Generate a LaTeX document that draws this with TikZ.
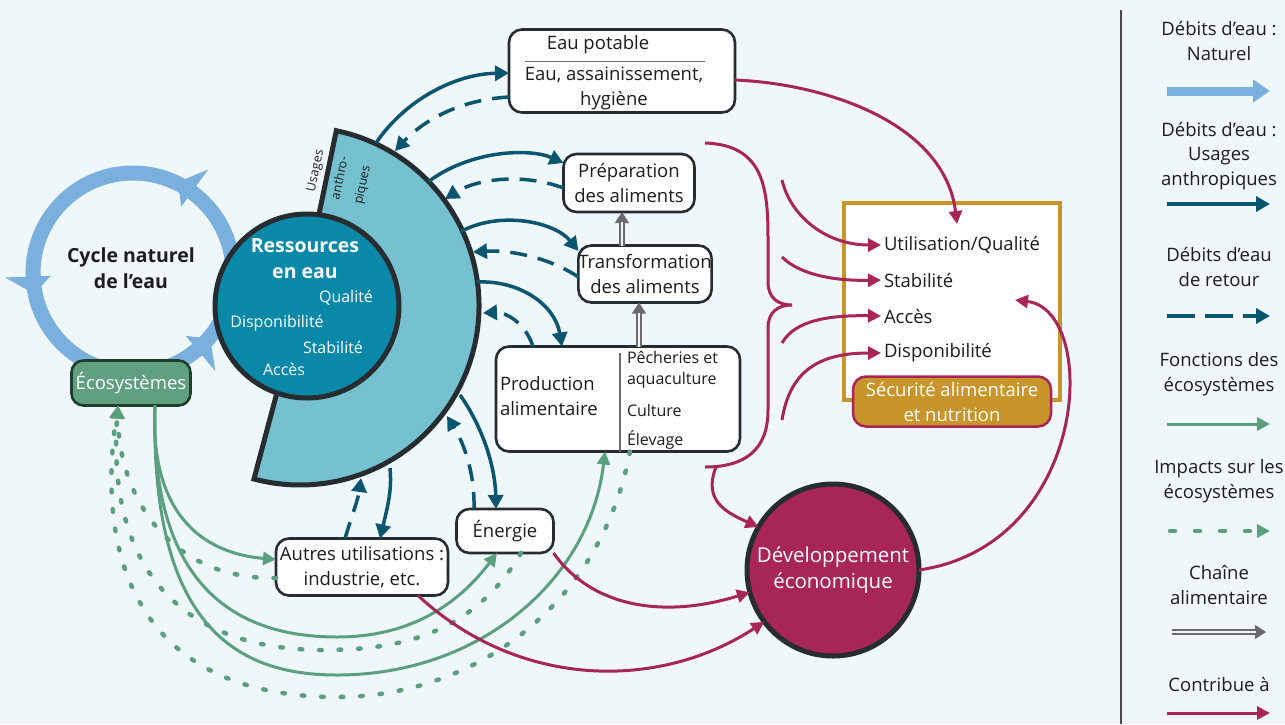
\documentclass[tikz,border=0pt]{standalone}
\usepackage{fontspec}
\setmainfont{Open Sans}
\usetikzlibrary{arrows.meta,calc}
\definecolor{bgc}{RGB}{239,247,251}
\definecolor{ringc}{RGB}{122,176,222}
\definecolor{tealc}{RGB}{10,86,112}
\definecolor{resc}{RGB}{9,136,168}
\definecolor{secc}{RGB}{117,193,208}
\definecolor{outc}{RGB}{38,44,48}
\definecolor{greenc}{RGB}{91,160,126}
\definecolor{ecofill}{RGB}{96,160,128}
\definecolor{ecoline}{RGB}{28,62,42}
\definecolor{magc}{RGB}{168,37,88}
\definecolor{goldc}{RGB}{200,149,42}
\definecolor{grayc}{RGB}{105,105,110}
\definecolor{txtc}{RGB}{30,28,30}
\newcommand\fA{\fontsize{18.5}{25}\selectfont}
\newcommand\fB{\fontsize{16}{23}\selectfont}
\newcommand\fC{\fontsize{12.5}{15}\selectfont}
\newcommand\fD{\fontsize{19.5}{26}\selectfont\bfseries}
\newcommand\fE{\fontsize{18.5}{24.5}\selectfont}
\begin{document}
\begin{tikzpicture}[x=1pt,y=-1pt,
  every node/.style={inner sep=0pt, outer sep=0pt, text=txtc},
  box/.style={draw=outc, line width=2.6pt, fill=white, rounded corners=13pt, align=center, font=\fA},
  lbl/.style={font=\fA, align=center},
  item/.style={font=\fA, anchor=west, inner sep=3pt},
  legt/.style={font=\fE, align=center},
  anthro/.style={draw=tealc, line width=3.5pt, -{Triangle[length=14pt,width=15pt]}},
  retour/.style={anthro, dash pattern=on 17pt off 11pt},
  fonc/.style={draw=greenc, line width=3pt, -{Triangle[length=13pt,width=13pt]}},
  impact/.style={fonc, line cap=round, dash pattern=on 2.5pt off 17pt, line width=4.5pt},
  contrib/.style={draw=magc, line width=3pt, -{Triangle[length=13pt,width=13pt]}},
  chainline/.style={draw=grayc, line width=1.4pt, double=bgc, double distance=2.6pt, shorten >=10pt},
  chaintip/.style={draw=grayc, line width=1pt, -{Triangle[length=11pt,width=14pt]}}
]
\useasboundingbox (0,0) rectangle (1285,724);
\fill[bgc] (0,0) rectangle (1285,724);

% ---------- natural water cycle ----------
\coordinate (cyc) at (133,273);
\draw[ringc, line width=15pt] (cyc) circle[radius=100];
\foreach \a/\t in {-54/-144, 178/88, 50/-40}{
  \fill[ringc] ($(cyc)+(\a:82)$) -- ($(cyc)+(\a:128)$) -- ($(cyc)+(\a:100)+(\t:17)$) -- cycle;
}
\node[font=\fD, align=center] (cyct) at (131,268) {Cycle naturel\\de l’eau};

% ---------- water resources ----------
\coordinate (sc) at (300,306);
\filldraw[fill=secc, draw=outc, line width=5pt, line join=miter] (sc) -- ++(-78.3:179) arc[start angle=-78.3, end angle=104.9, radius=179] -- cycle;
\node[circle, fill=resc, draw=outc, line width=5pt, minimum size=184pt] (res) at (307,306) {};
\node[font=\fD, text=white, align=center] (rest) at (305,259) {Ressources\\en eau};
\node[font=\fB, text=white] (rq) at (346,298) {Qualité};
\node[font=\fB, text=white] (rd) at (277,323) {Disponibilité};
\node[font=\fB, text=white] (rs) at (333,347) {Stabilité};
\node[font=\fB, text=white] (ra) at (284,369) {Accès};
\node[font=\fC, rotate=78] (us1) at (316,171) {Usages};
\node[font=\fC, rotate=78] (us2) at (339,178) {anthro-};
\node[font=\fC, rotate=78] (us3) at (363,185) {piques};

% sector anchor points
\coordinate (s1) at (376,143);
\coordinate (s2) at (395,151);
\coordinate (s3) at (428,182);
\coordinate (s4) at (445,199);
\coordinate (s5) at (460,232);
\coordinate (s6) at (473,252);
\coordinate (s7) at (477,282);
\coordinate (s8) at (483,313);
\coordinate (s9) at (460,395);
\coordinate (s10) at (447,416);
\coordinate (s11) at (390,468);
\coordinate (s12) at (361,478);

% ---------- boxes ----------
\node[draw=ecoline, line width=2.6pt, fill=ecofill, rounded corners=12pt, minimum width=119pt, minimum height=45pt, font=\fA, text=white] (eco) at (131,383) {Écosystèmes};

\node[box, minimum width=226pt, minimum height=83pt] (ep) at (622,71) {};
\node[lbl] (ept) at (598,45) {Eau potable};
\draw[grayc, line width=1pt] (ept.south -| 525,0) ++(0,7) coordinate (epl1) -- (epl1 -| 705,0);
\node[lbl] (eps) at (614,88) {Eau, assainissement,\\hygiène};

\node[box, minimum width=131pt, minimum height=58pt] (prep) at (629,183) {Préparation\\des aliments};
\node[box, minimum width=132pt, minimum height=57pt] (trans) at (645,274) {Transformation\\des aliments};
\node[box, minimum width=244pt, minimum height=105pt] (prod) at (618,399) {};
\draw[grayc, line width=1.5pt] (prod.north -| 620,0) ++(0,6) coordinate (pd1) -- (prod.south -| 620,0) ++(0,-6);
\node[lbl, anchor=west, align=left] (prodl) at (500,396) {Production\\alimentaire};
\node[font=\fB, anchor=west] (pp1) at (627,357) {Pêcheries et};
\node[font=\fB, anchor=west] (pp2) at (627,380) {aquaculture};
\node[font=\fB, anchor=west] (pp3) at (627,410) {Culture};
\node[font=\fB, anchor=west] (pp4) at (627,440) {Élevage};
\node[box, minimum width=97pt, minimum height=44pt] (energie) at (505,531) {Énergie};
\node[box, minimum width=172pt, minimum height=57pt] (autres) at (362,567) {Autres utilisations :\\industrie, etc.};
\node[circle, draw=outc, line width=5pt, fill=magc, minimum size=172pt, font=\fontsize{20.5}{26}\selectfont, text=white, align=center] (dev) at (833,570) {Développement\\économique};

\node[draw=goldc, line width=4pt, fill=white, minimum width=216pt, minimum height=197pt] (fsbox) at (952,301.5) {};
\node[item] (util) at (881,245) {Utilisation/Qualité};
\node[item] (stab) at (881,280) {Stabilité};
\node[item] (acces) at (881,316) {Accès};
\node[item] (dispo) at (881,353) {Disponibilité};
\node[draw=magc, fill=goldc, line width=2.5pt, rounded corners=13pt, minimum width=198pt, minimum height=50pt, font=\fA, text=white, align=center] (san) at (952,401.5) {Sécurité alimentaire\\et nutrition};

% ---------- anthropic uses & return flows ----------
\draw[anthro] (s1) .. controls (405,100) and (455,74) .. (ep.west |- 0,73);
\draw[retour] (ep.west |- 0,97) .. controls (455,100) and (420,124) .. (s2);
\draw[anthro] (s3) .. controls (470,150) and (530,148) .. (prep.west |- 0,163);
\draw[retour] (prep.west |- 0,188) .. controls (520,172) and (475,180) .. (s4);
\draw[anthro] (s5) .. controls (500,210) and (555,222) .. (trans.west |- 0,251);
\draw[retour] (trans.west |- 0,277) .. controls (545,255) and (505,250) .. (s6);
\draw[anthro] (s7) .. controls (520,280) and (555,305) .. (prod.north -| 562,0);
\draw[retour] (prod.north -| 533,0) .. controls (525,322) and (505,312) .. (s8);
\draw[anthro] (s9) .. controls (478,420) and (495,460) .. (energie.north -| 496,0);
\draw[retour] (energie.north -| 474,0) .. controls (475,470) and (462,440) .. (s10);
\draw[anthro] (s11) .. controls (392,490) and (388,505) .. (autres.north -| 380,0);
\draw[retour] (autres.north -| 345,0) .. controls (352,515) and (358,500) .. (s12);

% ---------- food chain ----------
\draw[chaintip] (prod.north -| 639,0) -- (trans.south -| 639,0);
\draw[chainline] (prod.north -| 639,0) -- (trans.south -| 639,0);
\draw[chaintip] (trans.north -| 622,0) -- (prep.south -| 622,0);
\draw[chainline] (trans.north -| 622,0) -- (prep.south -| 622,0);

% ---------- ecosystem functions & impacts ----------
\draw[impact] (autres.west |- 0,578) .. controls (165,580) and (118,490) .. (eco.south -| 118,0);
\draw[impact] (energie.south -| 521,0) .. controls (470,640) and (390,650) .. (320,650) .. controls (160,648) and (108,545) .. (eco.south -| 118,0);
\draw[impact] (prod.south -| 630,0) .. controls (600,610) and (470,697) .. (337,697) .. controls (140,697) and (95,560) .. (eco.south -| 118,0);
\draw[fonc] (eco.south -| 155,0) .. controls (150,500) and (190,552) .. (autres.175);
\draw[fonc] (eco.south -| 155,0) .. controls (150,580) and (230,637) .. (337,637) .. controls (420,637) and (465,595) .. (energie.south -| 497,0);
\draw[fonc] (eco.south -| 155,0) .. controls (150,630) and (240,675) .. (337,675) .. controls (480,675) and (590,580) .. (prod.south -| 605,0);

% ---------- contributes to ----------
\coordinate (utop) at (957,224);
\coordinate (bt) at (705,143);
\coordinate (bm) at (792,305);
\coordinate (bb) at (705,467);
\coordinate (bbr) at (716,467);
\coordinate (bu) at (782,180);
\coordinate (bs) at (782,257);
\coordinate (ba) at (782,343);
\coordinate (bd) at (782,420);
\coordinate (fsin) at (1015,300);
\draw[contrib] (ep.east |- 0,80) .. controls (830,84) and (945,125) .. (utop);
\draw[magc, line width=3pt] (bt) .. controls (765,145) and (768,190) .. (768,240) -- (768,282) .. controls (768,298) and (778,305) .. (bm) .. controls (778,305) and (768,312) .. (768,328) -- (768,410) .. controls (768,450) and (745,467) .. (bb);
\draw[contrib] (bbr) .. controls (703,500) and (725,512) .. (dev.150);
\draw[contrib] (bu) .. controls (790,215) and (825,245) .. (util.west);
\draw[contrib] (bs) .. controls (800,275) and (835,281) .. (stab.west);
\draw[contrib] (ba) .. controls (795,320) and (830,315) .. (acces.west);
\draw[contrib] (bd) .. controls (790,370) and (820,353) .. (dispo.west);
\draw[contrib] (energie.south east) .. controls (590,605) and (660,620) .. (dev.195);
\draw[contrib] (autres.south -| 418,0) .. controls (520,690) and (660,690) .. (dev.217);
\draw[contrib] (dev.east) .. controls (1090,545) and (1100,310) .. (fsin);

% ---------- legend ----------
\coordinate (lgtop) at (1121,10);
\coordinate (lgbot) at (1121,724);
\draw[grayc!70!black, line width=1.2pt] (lgtop) -- (lgbot);
\node[legt] (lt1) at (1219,41) {Débits d’eau :\\Naturel};
\node[legt] (lt2) at (1219,156) {Débits d’eau :\\Usages\\anthropiques};
\node[legt] (lt3) at (1219,267) {Débits d’eau\\de retour};
\node[legt] (lt4) at (1219,374) {Fonctions des\\écosystèmes};
\node[legt] (lt5) at (1219,481) {Impacts sur les\\écosystèmes};
\node[legt] (lt6) at (1219,585) {Chaîne\\alimentaire};
\node[legt] (lt7) at (1219,684) {Contribue à};
\coordinate (la1) at (1167,91);  \coordinate (lb1) at (1270,91);
\coordinate (la2) at (1167,204); \coordinate (lb2) at (1270,204);
\coordinate (la3) at (1167,316); \coordinate (lb3) at (1270,316);
\coordinate (la4) at (1167,424); \coordinate (lb4) at (1270,424);
\coordinate (la5) at (1170,531); \coordinate (lb5) at (1270,531);
\coordinate (la6) at (1172,632); \coordinate (lb6) at (1266,632);
\coordinate (la7) at (1167,713); \coordinate (lb7) at (1270,713);
\draw[ringc, line width=9pt, -{Triangle[length=17pt,width=22pt]}] (la1) -- (lb1);
\draw[anthro] (la2) -- (lb2);
\draw[anthro, dash pattern=on 28pt off 10pt] (la3) -- (lb3);
\draw[fonc] (la4) -- (lb4);
\draw[impact, dash pattern=on 5pt off 20pt] (la5) -- (lb5);
\draw[chaintip] (la6) -- (lb6);
\draw[chainline] (la6) -- (lb6);
\draw[contrib] (la7) -- (lb7);
\end{tikzpicture}
\end{document}
